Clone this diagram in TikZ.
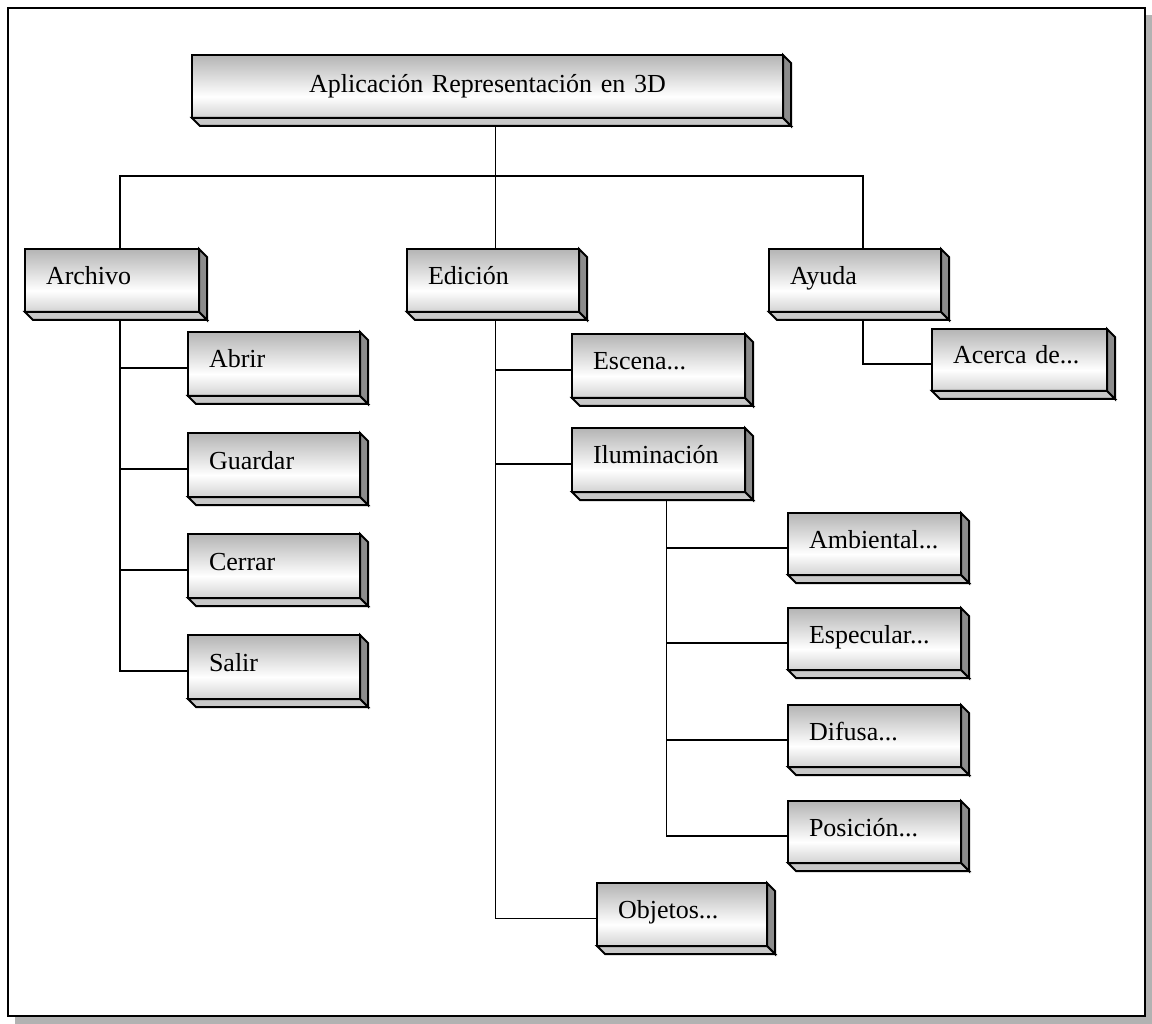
\documentclass[tikz,border=0pt]{standalone}
\usepackage{fontspec}
\setmainfont{Liberation Serif}
\usetikzlibrary{calc}

% vertical face gradient: grey at the top, brightest about two thirds down
\definecolor{facetop}{HTML}{B4B4B4}
\definecolor{facebot}{HTML}{D2D2D2}
\definecolor{sidegray}{HTML}{8C8C8C}
\definecolor{basegray}{HTML}{C8C8C8}
\definecolor{shadowgray}{HTML}{B2B2B2}
\pgfdeclareverticalshading{facegrad}{100bp}{%
  color(0bp)=(facebot); color(25bp)=(facebot); color(42bp)=(white);
  color(75bp)=(facetop); color(100bp)=(facetop)}

\newcommand\extdepth{8}

% a raised menu box: front face with text, right side and bottom bevel
% #1 options, #2 name, #3 left, #4 top, #5 width, #6 height, #7 text
\newcommand\menubox[7][]{%
  \pgfmathsetmacro\menutw{#5-42}%
  \node[face, anchor=north west, minimum width=#5pt, minimum height=#6pt,
        text width=\menutw pt, #1] (#2) at (#3,#4) {#7};
  \draw[edge, fill=sidegray] (#2.north east) -- ++(\extdepth,\extdepth)
     -- ($(#2.south east)+(\extdepth,\extdepth)$) -- (#2.south east) -- cycle;
  \draw[edge, fill=basegray] (#2.south west) -- ($(#2.south west)+(\extdepth,\extdepth)$)
     -- ($(#2.south east)+(\extdepth,\extdepth)$) -- (#2.south east) -- cycle;
  \coordinate (#2-b) at ($(#2.south)+(\extdepth,\extdepth)$);
  \coordinate (#2-l) at ($(#2.west)+(0,\extdepth/2)$);
}

\begin{document}
\begin{tikzpicture}[x=1pt, y=-1pt,
  face/.style={draw, line width=2pt, shade, shading=facegrad, outer sep=0pt,
    inner xsep=21pt, inner ysep=0pt, text height=19pt, text depth=11pt,
    align=left, font=\fontsize{26}{30}\selectfont},
  edge/.style={draw, line width=2pt, line join=miter},
  link/.style={draw, line width=1.9pt, line join=miter}]

\useasboundingbox (0,0) rectangle (1152,1024);

% page frame with its drop shadow
\fill[shadowgray] (15,15) rectangle (1152,1024);
\draw[line width=2.2pt, fill=white] (8,8) rectangle (1145,1016);

% boxes
\menubox[align=center, text depth=6pt]{top}{192}{55}{591}{63}{Aplicación Representación en 3D}

\menubox{archivo}{25}{249}{174}{63}{Archivo}
\menubox{edicion}{407}{249}{172}{63}{Edición}
\menubox{ayuda}{769}{249}{172}{63}{Ayuda}

\menubox{abrir}{188}{332}{172}{64}{Abrir}
\menubox{guardar}{188}{433}{172}{64}{Guardar}
\menubox{cerrar}{188}{534}{172}{64}{Cerrar}
\menubox{salir}{188}{635}{172}{64}{Salir}

\menubox{escena}{572}{334}{173}{64}{Escena...}
\menubox{ilum}{572}{428}{173}{64}{Iluminación}
\menubox{objetos}{597}{883}{170}{63}{Objetos...}

\menubox{ambiental}{788}{513}{173}{62}{Ambiental...}
\menubox{especular}{788}{608}{173}{62}{Especular...}
\menubox{difusa}{788}{705}{173}{62}{Difusa...}
\menubox{posicion}{788}{801}{173}{62}{Posición...}

\menubox{acerca}{932}{329}{175}{62}{Acerca de...}

% connectors
\coordinate (bus) at (top-b |- 0,176);
\draw[link] (top-b) -- (top-b |- edicion.north);
\draw[link] (archivo-b |- archivo.north) |- (bus) -| (ayuda-b |- ayuda.north);

\draw[link] (archivo-b) |- (salir-l);
\draw[link] (archivo-b |- abrir-l) -- (abrir-l);
\draw[link] (archivo-b |- guardar-l) -- (guardar-l);
\draw[link] (archivo-b |- cerrar-l) -- (cerrar-l);

\draw[link] (top-b |- edicion-b) |- (objetos-l);
\draw[link] (top-b |- escena-l) -- (escena-l);
\draw[link] (top-b |- ilum-l) -- (ilum-l);

\draw[link] (ilum-b) |- (posicion-l);
\draw[link] (ilum-b |- ambiental-l) -- (ambiental-l);
\draw[link] (ilum-b |- especular-l) -- (especular-l);
\draw[link] (ilum-b |- difusa-l) -- (difusa-l);

\draw[link] (ayuda-b) |- (acerca-l);
\end{tikzpicture}
\end{document}
